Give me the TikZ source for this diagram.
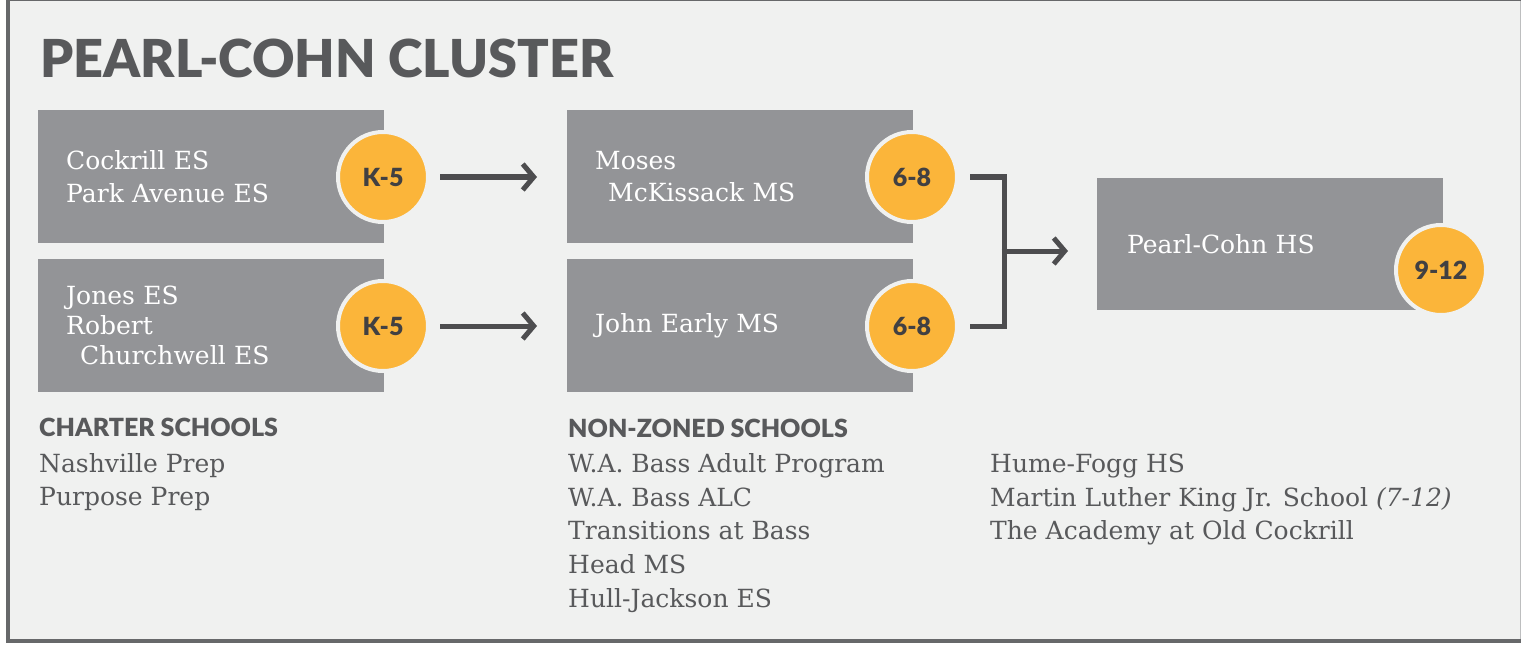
\documentclass[tikz,border=0pt]{standalone}
\usepackage{fontspec}
\setmainfont{DejaVu Serif}
\newfontfamily\headfont{Lato Black}
\usetikzlibrary{arrows.meta}
\definecolor{bgc}{HTML}{F0F1F0}
\definecolor{framec}{HTML}{67686A}
\definecolor{edgec}{HTML}{BDBEBF}
\definecolor{boxc}{HTML}{939497}
\definecolor{badgec}{HTML}{FBB53A}
\definecolor{badgetextc}{HTML}{414042}
\definecolor{darkc}{HTML}{4D4D4F}
\definecolor{textc}{HTML}{58595B}
\begin{document}
\begin{tikzpicture}[x=1pt,y=-1pt,
  school/.style={fill=boxc, anchor=north west, minimum width=346pt, minimum height=133pt,
    text width=290pt, inner xsep=28pt, inner ysep=0pt, align=left, text=white,
    font=\fontsize{25}{33}\selectfont},
  badge/.style={circle, fill=badgec, draw=bgc, line width=4pt, minimum size=90pt, inner sep=0pt,
    text=badgetextc, font=\headfont\fontsize{25}{25}\selectfont},
  flow/.style={draw=darkc, line width=5pt, -{Straight Barb[length=11pt,width=26pt]}},
  bracket/.style={draw=darkc, line width=5pt},
  listitem/.style={anchor=base west, inner sep=0pt, text=textc, font=\fontsize{25}{28}\selectfont},
  listhead/.style={anchor=base west, inner sep=0pt, text=textc, font=\headfont\fontsize{25}{28}\selectfont},
  title/.style={anchor=base west, inner sep=0pt, text=textc, font=\headfont\fontsize{52.3}{60}\selectfont}
]
\useasboundingbox (0,0) rectangle (1521,658);
\fill[white] (0,0) rectangle (1521,658);
\fill[framec] (6,0) rectangle (1521,643);
\fill[bgc] (10,1.5) rectangle (1520,639);
\fill[edgec] (1520,1.5) rectangle (1521,639);

\node[title] (ttl) at (40,78) {PEARL-COHN CLUSTER};

% boxes
\node[school] (b1) at (38,110) {Cockrill ES\\Park Avenue ES};
\node[school, font=\fontsize{25}{30}\selectfont] (b2) at (38,259) {Jones ES\\Robert\\\hspace*{14pt}Churchwell ES};
\node[school, font=\fontsize{25}{32}\selectfont] (b3) at (567,110) {Moses\\\hspace*{13pt}McKissack MS};
\node[school] (b4) at (567,259) {John Early MS};
\node[school, minimum height=132pt, inner xsep=30pt, text width=286pt] (b5) at (1097,178) {Pearl-Cohn HS};

% badges
\node[badge] (k1) at (383,177) {K-5};
\node[badge] (k2) at (383,326) {K-5};
\node[badge] (m1) at (912,177) {6-8};
\node[badge] (m2) at (912,326) {6-8};
\node[badge] (h1) at (1441,270) {9-12};

% connectors
\draw[flow, shorten <=10pt, shorten >=30pt] (k1) -- (b3.west |- k1);
\draw[flow, shorten <=10pt, shorten >=30pt] (k2) -- (b4.west |- k2);
\coordinate (j) at (1004,251);
\draw[bracket] ([xshift=11pt]m1.east) -- (j |- m1) -- (j |- m2) -- ([xshift=11pt]m2.east);
\draw[flow, shorten >=29pt] ([xshift=-2.5pt]j) -- (b5.west |- j);

% lists
\node[listhead] (ch) at (39,436) {CHARTER SCHOOLS};
\node[listitem] (c1) at (39,472) {Nashville Prep};
\node[listitem] (c2) at (39,505) {Purpose Prep};

\node[listhead] (nz) at (568,437) {NON-ZONED SCHOOLS};
\node[listitem] (n1) at (568,472) {W.A. Bass Adult Program};
\node[listitem] (n2) at (568,506) {W.A. Bass ALC};
\node[listitem] (n3) at (568,539) {Transitions at Bass};
\node[listitem] (n4) at (568,573) {Head MS};
\node[listitem] (n5) at (568,607) {Hull-Jackson ES};

\node[listitem] (r1) at (990,472) {Hume-Fogg HS};
\node[listitem] (r2) at (990,506) {Martin Luther King Jr. School \textit{(7-12)}};
\node[listitem] (r3) at (990,539) {The Academy at Old Cockrill};
\end{tikzpicture}
\end{document}
